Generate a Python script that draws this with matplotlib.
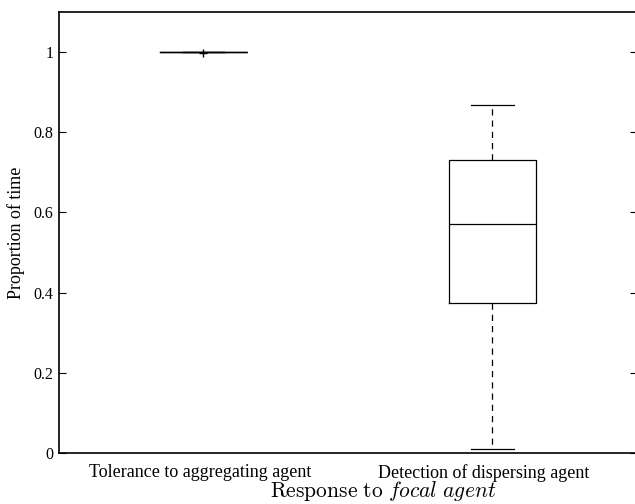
import matplotlib
matplotlib.use("Agg")
import matplotlib.pyplot as plt

plt.rcParams["font.family"] = ["Liberation Serif", "DejaVu Serif"]
plt.rcParams["mathtext.fontset"] = "cm"

categories = ["Tolerance to aggregating agent", "Detection of dispersing agent"]
q1 = [0.999, 0.373]
medians = [1.0, 0.572]
q3 = [1.0, 0.731]
whisker_low = [0.999, 0.010]
whisker_high = [1.0, 0.868]
outliers = [[0.997], []]

yticks = [0, 0.2, 0.4, 0.6, 0.8, 1]
ytick_labels = ["0", "0.2", "0.4", "0.6", "0.8", "1"]

stats = []
for i, name in enumerate(categories):
    stats.append({
        "label": name,
        "q1": q1[i],
        "med": medians[i],
        "q3": q3[i],
        "whislo": whisker_low[i],
        "whishi": whisker_high[i],
        "fliers": outliers[i],
    })

fig = plt.figure(figsize=(6.35, 5.04), dpi=100)
ax = fig.add_axes([59 / 635, 51 / 504, 578 / 635, 441 / 504])

ax.bxp(
    stats,
    positions=[1, 2],
    widths=0.3,
    boxprops=dict(color="black", linewidth=0.9),
    medianprops=dict(color="black", linewidth=0.9),
    whiskerprops=dict(color="black", linewidth=0.9, linestyle=(0, (5, 4))),
    capprops=dict(color="black", linewidth=0.9),
    flierprops=dict(marker="+", markeredgecolor="black", markersize=6, linestyle="none"),
    capwidths=0.15,
)

ax.set_xlim(0.5, 2.5)
ax.set_ylim(0, 1.1)
ax.set_yticks(yticks)
ax.set_yticklabels(ytick_labels, fontsize=11.5)
ax.set_xticks([0.99, 1.97])
ax.set_xticklabels(categories, fontsize=13)
ax.tick_params(axis="x", length=0, pad=8)
ax.tick_params(axis="y", direction="in", length=5, right=True, width=0.8, pad=4)
for s in ax.spines.values():
    s.set_linewidth(1.2)

ax.set_ylabel("Proportion of time", fontsize=13, labelpad=6)
ax.set_xlabel(r"$\mathrm{Response\ to\ }\mathit{focal\ agent}$", fontsize=15.5)
ax.xaxis.set_label_coords((383 - 59) / 578, -0.06)

fig.savefig("out.png", dpi=100)
